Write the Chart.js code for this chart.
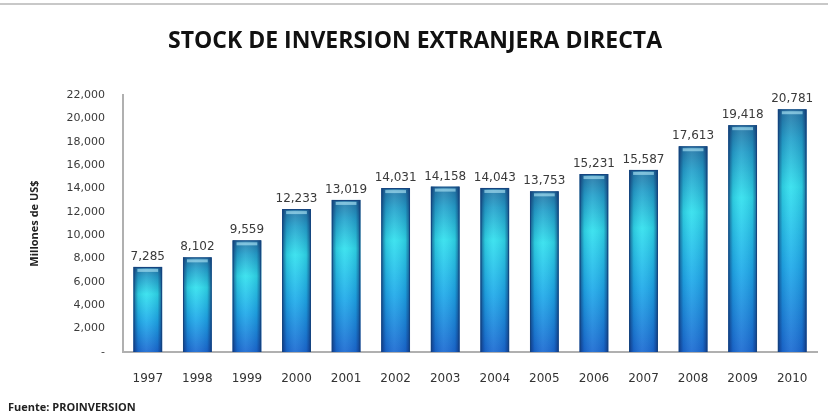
<!DOCTYPE html>
<html>
<head>
<meta charset="utf-8">
<script src="https://cdn.jsdelivr.net/npm/chart.js@4.4.1/dist/chart.umd.min.js"></script>
<style>
  html, body { margin: 0; padding: 0; background: #fff; }
  #wrap { width: 828px; height: 417px; position: relative; }
</style>
</head>
<body>
<div id="wrap"><canvas id="fdiChart"></canvas></div>
<script>
// Datos
const years = ['1997', '1998', '1999', '2000', '2001', '2002', '2003', '2004', '2005', '2006', '2007', '2008', '2009', '2010'];
const stockValues = [7285, 8102, 9559, 12233, 13019, 14031, 14158, 14043, 13753, 15231, 15587, 17613, 19418, 20781];
const yTicks = [0, 2000, 4000, 6000, 8000, 10000, 12000, 14000, 16000, 18000, 20000, 22000];

const chartTitle = 'STOCK DE INVERSION EXTRANJERA DIRECTA';
const yTitle = 'Millones de US$';
const sourceNote = 'Fuente: PROINVERSION';

const fmt = v => v.toLocaleString('en-US');

// Relleno tipo cilindro: degradado vertical + sombreado en los bordes
const barFill = {
    id: 'barFill',
    beforeDatasetsDraw(chart) {
        const ctx = chart.ctx;
        const meta = chart.getDatasetMeta(0);
        ctx.save();
        meta.data.forEach(bar => {
            const left = bar.x - bar.width / 2;
            const w = bar.width;
            const h = bar.base - bar.y;
            const vg = ctx.createLinearGradient(0, bar.y, 0, bar.base);
            vg.addColorStop(0, '#2474a4');
            vg.addColorStop(0.12, '#24a2cc');
            vg.addColorStop(0.32, '#30e0ee');
            vg.addColorStop(0.65, '#1eaaea');
            vg.addColorStop(1, '#1a6ad2');
            ctx.fillStyle = vg;
            ctx.fillRect(left, bar.y, w, h);
            const hg = ctx.createLinearGradient(left, 0, left + w, 0);
            hg.addColorStop(0, 'rgba(12,30,90,0.65)');
            hg.addColorStop(0.16, 'rgba(12,30,90,0.12)');
            hg.addColorStop(0.45, 'rgba(255,255,255,0.08)');
            hg.addColorStop(0.84, 'rgba(12,30,90,0.12)');
            hg.addColorStop(1, 'rgba(12,30,90,0.65)');
            ctx.fillStyle = hg;
            ctx.fillRect(left, bar.y, w, h);
            // tapa superior clara
            ctx.fillStyle = 'rgba(180,235,250,0.6)';
            ctx.fillRect(left + 4, bar.y + 2, w - 8, 3);
        });
        ctx.restore();
    },
    afterDatasetsDraw(chart) {
        const ctx = chart.ctx;
        const meta = chart.getDatasetMeta(0);
        ctx.save();
        ctx.fillStyle = '#3a3a3a';
        ctx.font = '12px "DejaVu Sans", sans-serif';
        ctx.textAlign = 'center';
        ctx.textBaseline = 'bottom';
        meta.data.forEach((bar, i) => {
            ctx.fillText(fmt(stockValues[i]), bar.x, bar.y - 4);
        });
        ctx.restore();
    }
};

// Título, nota de fuente y línea superior
const frameText = {
    id: 'frameText',
    afterDraw(chart) {
        const ctx = chart.ctx;
        ctx.save();
        ctx.strokeStyle = '#c8c8c8';
        ctx.lineWidth = 2;
        ctx.beginPath();
        ctx.moveTo(0, 4);
        ctx.lineTo(chart.width, 4);
        ctx.stroke();
        ctx.fillStyle = '#111';
        ctx.font = 'bold 23px "Open Sans", "DejaVu Sans", sans-serif';
        ctx.textAlign = 'center';
        ctx.textBaseline = 'middle';
        ctx.fillText(chartTitle, 415, 41);
        ctx.font = 'bold 11px "Open Sans", "DejaVu Sans", sans-serif';
        ctx.textAlign = 'left';
        ctx.fillStyle = '#222';
        ctx.fillText(sourceNote, 8, 408);
        ctx.restore();
    }
};

const fdiCtx = document.getElementById('fdiChart').getContext('2d');

new Chart(fdiCtx, {
    type: 'bar',
    data: {
        labels: years,
        datasets: [{
            label: 'Stock IED',
            data: stockValues,
            backgroundColor: 'rgba(0,0,0,0)',
            borderColor: '#15447f',
            borderWidth: 1,
            categoryPercentage: 0.58,
            barPercentage: 1
        }]
    },
    options: {
        responsive: true,
        maintainAspectRatio: false,
        animation: false,
        layout: { padding: { top: 95, right: 11, bottom: 0, left: 28 } },
        plugins: {
            legend: { display: false },
            tooltip: { enabled: false }
        },
        scales: {
            x: {
                grid: { display: false, drawTicks: false },
                border: { color: '#b0b0b0', width: 2 },
                ticks: { color: '#333', font: { size: 12, family: '"DejaVu Sans", sans-serif' }, padding: 20 },
                afterFit(scale) { scale.height = 65; }
            },
            y: {
                min: 0,
                max: 22000,
                afterBuildTicks(scale) { scale.ticks = yTicks.map(v => ({ value: v })); },
                grid: { display: false, drawTicks: false },
                border: { color: '#b0b0b0', width: 2 },
                ticks: {
                    color: '#3a3a3a',
                    font: { size: 11, family: '"DejaVu Sans", sans-serif' },
                    padding: 18,
                    callback: v => v === 0 ? '-' : fmt(v)
                },
                title: {
                    display: true,
                    text: yTitle,
                    color: '#222',
                    font: { size: 11, weight: 'bold', family: '"Open Sans", "DejaVu Sans", sans-serif' },
                    padding: { top: 0, bottom: 0 }
                },
                afterFit(scale) { scale.width = 95; }
            }
        }
    },
    plugins: [barFill, frameText]
});
</script>
</body>
</html>
